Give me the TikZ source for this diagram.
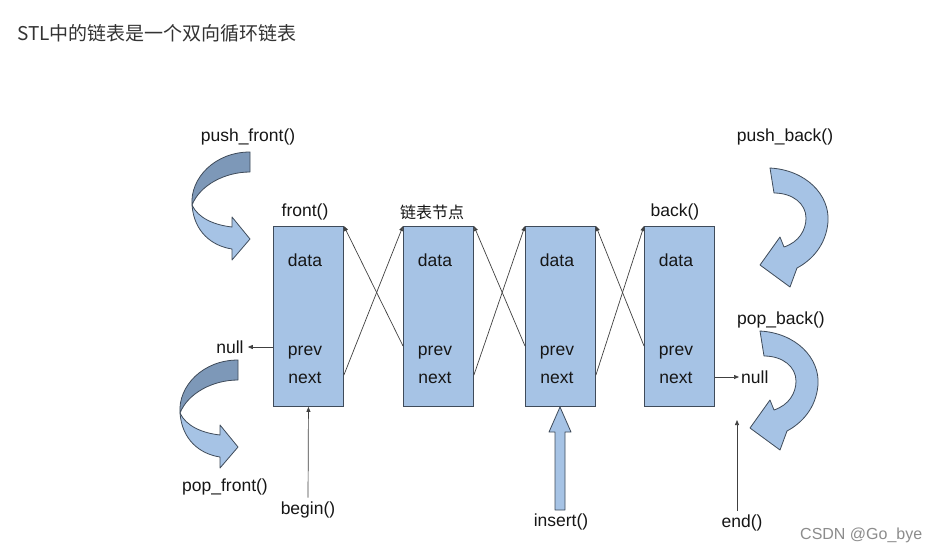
\documentclass[tikz,border=0pt]{standalone}
\usepackage{fontspec}
\setmainfont{Liberation Sans}
\newfontfamily\cjk{Noto Sans CJK SC}
\usetikzlibrary{arrows.meta}
\definecolor{boxfill}{HTML}{A6C3E5}
\definecolor{boxline}{HTML}{3F4B5A}
\definecolor{darkband}{HTML}{7D98B8}
\definecolor{txt}{HTML}{161616}
\begin{document}
\begin{tikzpicture}[x=1pt,y=-1pt,
  box/.style={draw=boxline, line width=0.9pt, fill=boxfill, minimum width=70pt, minimum height=180pt, inner sep=0pt, anchor=north west},
  lbl/.style={font=\fontsize{17.5}{20}\selectfont, text=txt, inner sep=0pt},
  fld/.style={lbl, anchor=base},
  link/.style={draw=black!75, line width=0.7pt, -{Triangle[width=4pt,length=5pt]}},
  shapeline/.style={draw=boxline, line width=0.8pt, line join=round}]
\fill[white] (0,0) rectangle (949,554);
\useasboundingbox (0,0) rectangle (949,554);

% title
\node[anchor=west, font=\cjk\fontsize{19}{22}\selectfont, text=black!80, inner sep=0pt] (title) at (17,33) {STL中的链表是一个双向循环链表};

% boxes
\node[box] (n1) at (273,226) {};
\node[box] (n2) at (403,226) {};
\node[box] (n3) at (525,226) {};
\node[box] (n4) at (644,226) {};

% field labels
\foreach \i/\x in {1/305,2/435,3/557,4/676}{
  \node[fld] (d\i) at (\x,266) {data};
  \node[fld] (p\i) at (\x,355) {prev};
  \node[fld] (x\i) at (\x,383) {next};
  \coordinate (pa\i) at ([yshift=9pt]p\i.base);
  \coordinate (xa\i) at ([yshift=8pt]x\i.base);
}

% top labels
\node[lbl] (frontl) at (305,212) {front()};
\node[font=\cjk\fontsize{16}{18}\selectfont, text=txt, inner sep=0pt] (nodel) at (432,212) {链表节点};
\node[lbl] (backl) at (675,212) {back()};

% links
\draw[link] (n2.west |- pa2) -- (n1.north east);
\draw[link] (n1.east |- xa1) -- (n2.north west);
\draw[link] (n3.west |- pa3) -- (n2.north east);
\draw[link] (n2.east |- xa2) -- (n3.north west);
\draw[link] (n4.west |- pa4) -- (n3.north east);
\draw[link] (n3.east |- xa3) -- (n4.north west);

% nulls
\node[lbl] (nullL) at (230,347) {null};
\draw[link] (n1.west |- nullL) -- ([xshift=4pt]nullL.east);
\node[lbl, anchor=west] (nullR) at (741,377) {null};
\draw[link] (n4.east |- nullR) -- ([xshift=-2pt]nullR.west);

% begin / end
\node[lbl] (beg) at (308,510) {begin()};
\draw[link, shorten <=4pt] (beg.north) -- (n1.south);
\node[lbl] (endn) at (742,523) {end()};
\coordinate (endtip) at (737,420);
\draw[link, shorten <=4pt] (endn.north -| endtip) -- (endtip);

% insert
\node[lbl] (ins) at (561,522) {insert()};
\draw[shapeline, fill=boxfill] (555,510) -- (555,432) -- (549,432) -- (560,407) -- (571,432) -- (565,432) -- (565,510) -- cycle;

% push / pop labels
\node[lbl] (pushf) at (248,137) {push\_front()};
\node[lbl] (popf) at (225,487) {pop\_front()};
\node[lbl] (pushb) at (785,137) {push\_back()};
\node[lbl] (popb) at (781,320) {pop\_back()};

% curved arrows (front)
\foreach \sx/\sy in {0/0,-12/208}{
\begin{scope}[shift={(\sx,\sy)}]
\draw[shapeline, fill=darkband] (250,152) .. controls (215,152) and (190,178) .. (192,205) .. controls (200,185) and (225,172) .. (250,172) -- cycle;
\draw[shapeline, fill=boxfill] (192,205) .. controls (194,232) and (212,246) .. (232,249) -- (232,260) -- (250,239) -- (232,217) -- (232,227) .. controls (214,225) and (198,218) .. (192,205) -- cycle;
\end{scope}
}
% curved arrows (back)
\foreach \sx/\sy in {0/0,-10/163}{
\begin{scope}[shift={(\sx,\sy)}]
\draw[shapeline, fill=boxfill] (770,168) .. controls (806,170) and (830,195) .. (828,222) .. controls (826,245) and (812,260) .. (797,268) -- (790,287) -- (760,265) -- (780,237) -- (784,247) .. controls (799,242) and (806,230) .. (806,218) .. controls (806,204) and (793,193) .. (774,193) -- cycle;
\end{scope}
}

% watermark
\node[anchor=west, font=\fontsize{16}{18}\selectfont, text=black!45, inner sep=0pt] (wm) at (800,535) {CSDN @Go\_bye};
\end{tikzpicture}
\end{document}
